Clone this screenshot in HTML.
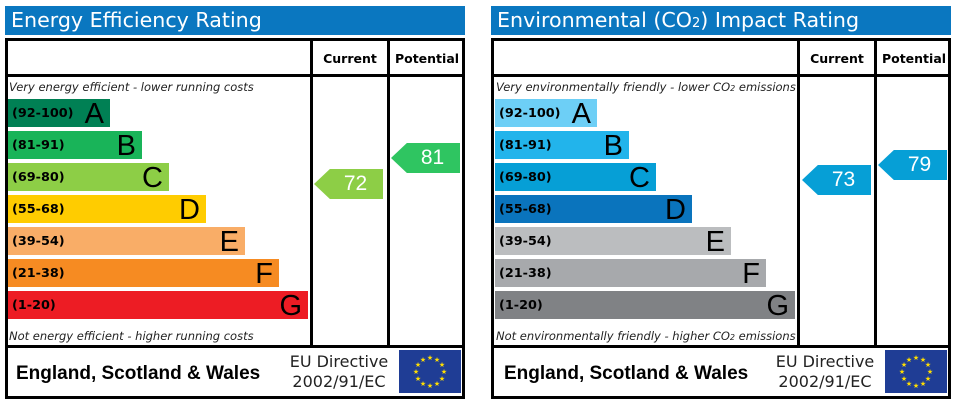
<!DOCTYPE html>
<html><head><meta charset="utf-8"><style>
*{margin:0;padding:0;box-sizing:border-box}
body{width:957px;height:404px;background:#fff;position:relative;overflow:hidden;font-family:"DejaVu Sans","Liberation Sans",sans-serif}
.a{position:absolute}
.title{background:#0a77c0;color:#fff;font-size:20.6px;line-height:29px;padding-left:6px;height:29px;top:6px;width:460px}
.box{border:3px solid #000;top:38px;width:460px;height:361px}
.vl{background:#000;width:3px;top:38px;height:310px}
.hl{background:#000;height:3px}
.hd{font-weight:bold;font-size:12.5px;text-align:center;top:51px}
.it{font-style:italic;font-size:11.5px;color:#222}
.bar{height:28px;color:#000}
.bar .r{position:absolute;left:4px;top:7px;font-weight:bold;font-size:12.8px}
.bar .l{position:absolute;right:6px;top:-1px;font-family:"Liberation Sans",sans-serif;font-size:29px}
.arr{height:30px;color:#fff;font-family:"Liberation Sans",sans-serif;font-size:21px;text-align:center;line-height:30px;clip-path:polygon(0 50%,23% 0,100% 0,100% 100%,23% 100%)}
.arr span{padding-left:14px}
.ft{font-family:"Liberation Sans",sans-serif;font-weight:bold;font-size:19px;top:363px}
.eu{font-size:16px;line-height:20px;text-align:center;top:352px;color:#222}
.flag{background:#1f3d95;width:62px;height:43px;top:350px;color:#ffde00;font-size:7px}
</style></head><body>

<!-- LEFT -->
<div class="a title" style="left:5px">Energy Efficiency Rating</div>
<div class="a box" style="left:5px"></div>
<div class="a hl" style="left:5px;top:74px;width:460px"></div>
<div class="a hl" style="left:5px;top:345px;width:460px"></div>
<div class="a vl" style="left:310px"></div>
<div class="a vl" style="left:387px"></div>
<div class="a hd" style="left:313px;width:74px">Current</div>
<div class="a hd" style="left:390px;width:74px">Potential</div>
<div class="a it" style="left:9px;top:80px">Very energy efficient - lower running costs</div>
<div class="a it" style="left:9px;top:329px">Not energy efficient - higher running costs</div>
<div class="a bar" style="left:8px;top:99px;width:102px;background:#008054"><span class="r">(92-100)</span><span class="l">A</span></div>
<div class="a bar" style="left:8px;top:131px;width:134px;background:#19b459"><span class="r">(81-91)</span><span class="l">B</span></div>
<div class="a bar" style="left:8px;top:163px;width:161px;background:#8dce46"><span class="r">(69-80)</span><span class="l">C</span></div>
<div class="a bar" style="left:8px;top:195px;width:198px;background:#ffcc00"><span class="r">(55-68)</span><span class="l">D</span></div>
<div class="a bar" style="left:8px;top:227px;width:237px;background:#f9ad67"><span class="r">(39-54)</span><span class="l">E</span></div>
<div class="a bar" style="left:8px;top:259px;width:271px;background:#f68b22"><span class="r">(21-38)</span><span class="l">F</span></div>
<div class="a bar" style="left:8px;top:291px;width:300px;background:#ed1c24"><span class="r">(1-20)</span><span class="l">G</span></div>
<div class="a arr" style="left:314px;top:169px;width:69px;background:#8dce46"><span>72</span></div>
<div class="a arr" style="left:391px;top:143px;width:69px;background:#2fc561"><span>81</span></div>
<div class="a ft" style="left:16px">England, Scotland &amp; Wales</div>
<div class="a eu" style="left:286px;width:106px">EU Directive<br>2002/91/EC</div>
<div class="a flag" style="left:399px"><svg width="62" height="43"><g fill="#ffde00" font-size="7" text-anchor="middle"><text x="31" y="10">★</text><text x="38" y="12">★</text><text x="43" y="17">★</text><text x="45" y="24">★</text><text x="43" y="31">★</text><text x="38" y="36">★</text><text x="31" y="38">★</text><text x="24" y="36">★</text><text x="19" y="31">★</text><text x="17" y="24">★</text><text x="19" y="17">★</text><text x="24" y="12">★</text></g></svg></div>

<!-- RIGHT -->
<div class="a title" style="left:491px">Environmental (CO<span style="font-size:13px">2</span>) Impact Rating</div>
<div class="a box" style="left:491px"></div>
<div class="a hl" style="left:491px;top:74px;width:460px"></div>
<div class="a hl" style="left:491px;top:345px;width:460px"></div>
<div class="a vl" style="left:797px"></div>
<div class="a vl" style="left:874px"></div>
<div class="a hd" style="left:800px;width:74px">Current</div>
<div class="a hd" style="left:877px;width:74px">Potential</div>
<div class="a it" style="left:496px;top:80px">Very environmentally friendly - lower CO<span style="font-size:8px">2</span> emissions</div>
<div class="a it" style="left:496px;top:329px">Not environmentally friendly - higher CO<span style="font-size:8px">2</span> emissions</div>
<div class="a bar" style="left:495px;top:99px;width:102px;background:#6dcff6"><span class="r">(92-100)</span><span class="l">A</span></div>
<div class="a bar" style="left:495px;top:131px;width:134px;background:#22b4eb"><span class="r">(81-91)</span><span class="l">B</span></div>
<div class="a bar" style="left:495px;top:163px;width:161px;background:#069fd6"><span class="r">(69-80)</span><span class="l">C</span></div>
<div class="a bar" style="left:495px;top:195px;width:197px;background:#0a74bd"><span class="r">(55-68)</span><span class="l">D</span></div>
<div class="a bar" style="left:495px;top:227px;width:236px;background:#bbbdbf"><span class="r">(39-54)</span><span class="l">E</span></div>
<div class="a bar" style="left:495px;top:259px;width:271px;background:#a7a9ac"><span class="r">(21-38)</span><span class="l">F</span></div>
<div class="a bar" style="left:495px;top:291px;width:300px;background:#808285"><span class="r">(1-20)</span><span class="l">G</span></div>
<div class="a arr" style="left:802px;top:165px;width:69px;background:#069fd6"><span>73</span></div>
<div class="a arr" style="left:878px;top:150px;width:69px;background:#069fd6"><span>79</span></div>
<div class="a ft" style="left:504px">England, Scotland &amp; Wales</div>
<div class="a eu" style="left:772px;width:106px">EU Directive<br>2002/91/EC</div>
<div class="a flag" style="left:885px"><svg width="62" height="43"><g fill="#ffde00" font-size="7" text-anchor="middle"><text x="31" y="10">★</text><text x="38" y="12">★</text><text x="43" y="17">★</text><text x="45" y="24">★</text><text x="43" y="31">★</text><text x="38" y="36">★</text><text x="31" y="38">★</text><text x="24" y="36">★</text><text x="19" y="31">★</text><text x="17" y="24">★</text><text x="19" y="17">★</text><text x="24" y="12">★</text></g></svg></div>
</body></html>
